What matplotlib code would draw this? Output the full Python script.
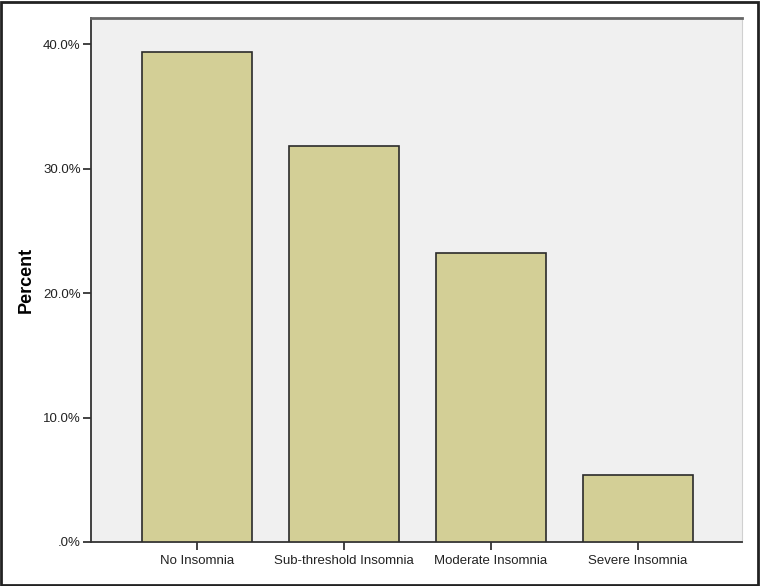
import matplotlib
matplotlib.use("Agg")
import matplotlib.pyplot as plt
from matplotlib.patches import Rectangle
from matplotlib.ticker import FuncFormatter

categories = ["No Insomnia", "Sub-threshold Insomnia", "Moderate Insomnia", "Severe Insomnia"]
percents = [39.4, 31.8, 23.2, 5.4]
yticks = [0, 10, 20, 30, 40]

plt.rcParams['font.family'] = ['Liberation Sans', 'DejaVu Sans']

fig = plt.figure(figsize=(7.6, 5.86), dpi=100)
ax = fig.add_axes([91/760, 44/586, 651/760, 524/586])
ax.set_facecolor('#f0f0f0')

ax.bar(range(len(categories)), percents, width=0.75, color='#d3cf96',
       edgecolor='#2b2b2b', linewidth=1.2, zorder=3)

ax.set_xlim(-0.72, 3.71)
ax.set_ylim(0, 42.1)
ax.set_yticks(yticks)
ax.yaxis.set_major_formatter(FuncFormatter(lambda v, p: '.0%' if v == 0 else '%.1f%%' % v))
ax.set_xticks(range(len(categories)))
ax.set_xticklabels(categories)
ax.tick_params(axis='both', labelsize=9.5, colors='#222222', length=6, width=1.2)
ax.tick_params(axis='y', pad=1.5)
ax.set_ylabel('Percent', fontsize=13, fontweight='bold', labelpad=6)

for side in ['left', 'bottom']:
    ax.spines[side].set_color('#333333')
    ax.spines[side].set_linewidth(1.3)
ax.spines['top'].set_color('#666666')
ax.spines['top'].set_linewidth(2)
ax.spines['right'].set_color('#d0d0d0')
ax.spines['right'].set_linewidth(0.8)

# frame round the whole picture
fig.patches.append(Rectangle((0.001, 0.002), 0.997, 0.995, transform=fig.transFigure,
                             fill=False, edgecolor='#222222', linewidth=2))

fig.savefig('out.png', dpi=100)
